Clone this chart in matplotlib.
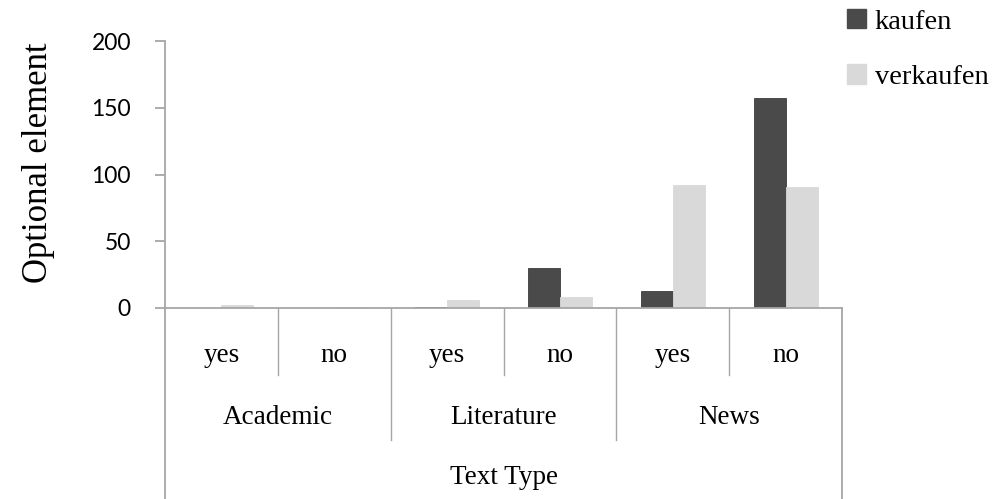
import matplotlib
matplotlib.use('Agg')
import matplotlib.pyplot as plt
from matplotlib.patches import Patch
import numpy as np

groups = ['Academic', 'Literature', 'News']
subs = ['yes', 'no', 'yes', 'no', 'yes', 'no']
kaufen = [0, 0, 1, 30, 13, 157]
verkaufen = [2, 1, 6, 8, 92, 91]

dark = '#4a4a4a'
light = '#d9d9d9'
grid = '#a6a6a6'
serif = 'Liberation Serif'

fig = plt.figure(figsize=(9.92, 4.99), dpi=100)
ax = fig.add_axes([165/992, 1 - 308/499, (842 - 165)/992, (308 - 41)/499])

x = np.arange(len(subs))
w = 0.284
ax.bar(x - w/2, kaufen, w, color=dark, edgecolor='#3c3c3c', linewidth=0.6)
ax.bar(x + w/2, verkaufen, w, color=light, edgecolor=light, linewidth=0.6)

ax.set_xlim(-0.5, 5.5)
ax.set_ylim(0, 200)
ax.set_yticks([0, 50, 100, 150, 200])
ax.set_xticks([])
ax.tick_params(axis='y', direction='out', length=7.5, width=1.3, color=grid,
               labelsize=16.5, pad=17)
for lab in ax.get_yticklabels():
    lab.set_fontfamily('Lato')

for s in ['top', 'right']:
    ax.spines[s].set_visible(False)
for s in ['left', 'bottom']:
    ax.spines[s].set_color(grid)
    ax.spines[s].set_linewidth(1.3)

# multi-level category axis
trans = ax.get_xaxis_transform()
def axy(py):
    return -(py - 308) / 267

for xs in [0.5, 2.5, 4.5]:
    ax.plot([xs, xs], [0, axy(375)], color=grid, lw=1.0, transform=trans, clip_on=False)
for xs in [1.5, 3.5]:
    ax.plot([xs, xs], [0, axy(440)], color=grid, lw=1.0, transform=trans, clip_on=False)
for xs in [-0.5, 5.5]:
    ax.plot([xs, xs], [0, axy(499) - 0.02], color=grid, lw=1.3, transform=trans, clip_on=False)

for i, s in enumerate(subs):
    ax.text(i, axy(355), s, transform=trans, ha='center', va='center',
            fontsize=19.5, family=serif)
for i, g in enumerate(groups):
    ax.text(2*i + 0.5, axy(417), g, transform=trans, ha='center', va='center',
            fontsize=19.5, family=serif)
ax.text(2.5, axy(478), 'Text Type', transform=trans, ha='center', va='center',
        fontsize=19.5, family=serif)

fig.text(39/992, 1 - 163/499, 'Optional element', rotation=90, ha='center',
         va='center', fontsize=25, family=serif)

handles = [Patch(facecolor=dark, edgecolor=dark, label='kaufen'),
           Patch(facecolor=light, edgecolor=light, label='verkaufen')]
fig.legend(handles=handles, loc='upper left', bbox_to_anchor=(844/992, 0.988),
           frameon=False, prop={'family': serif, 'size': 20.5},
           handlelength=0.68, handleheight=0.68, handletextpad=0.3,
           labelspacing=1.05, borderpad=0.1, borderaxespad=0)

fig.savefig('out.png', dpi=100)
